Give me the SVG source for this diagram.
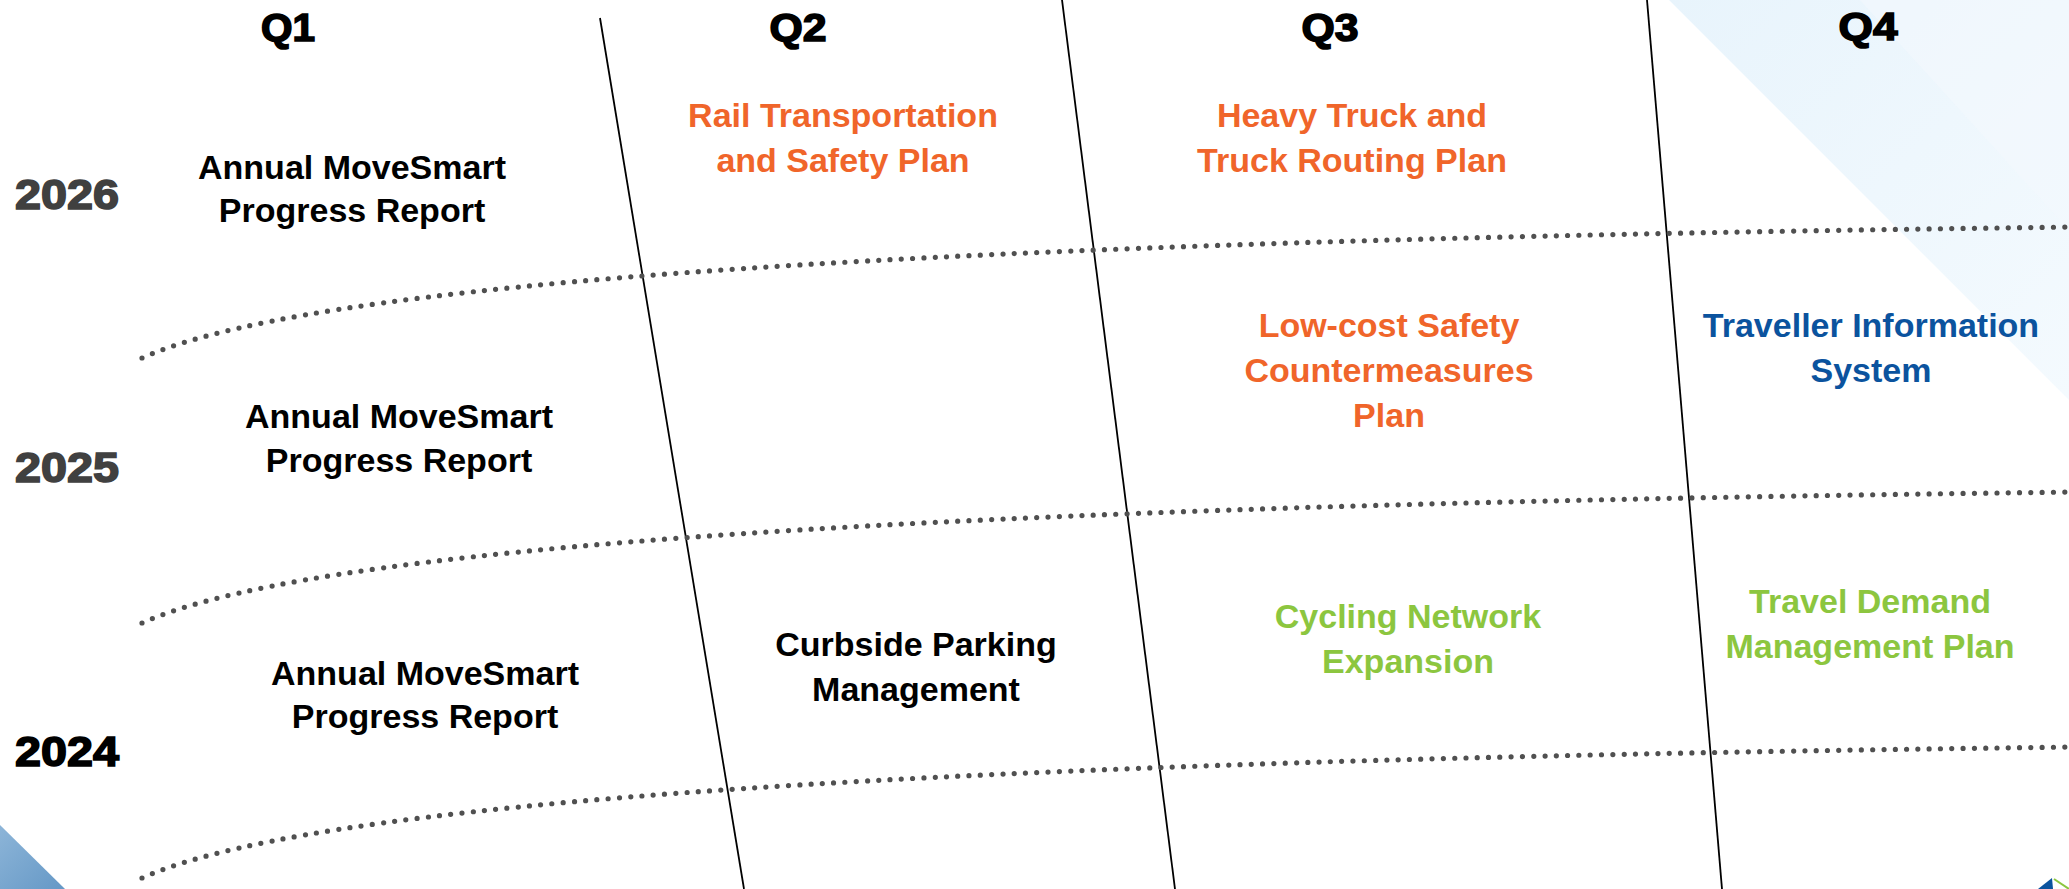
<svg xmlns="http://www.w3.org/2000/svg" width="2069" height="889" viewBox="0 0 2069 889">
<style>
.t{font-family:"Liberation Sans",Arial,sans-serif;font-weight:bold;font-size:34px;text-anchor:middle}
.blk{fill:#000}
.org{fill:#F0652A}
.blu{fill:#0B539E}
.grn{fill:#8CC63F}
.q{font-family:"Liberation Sans",Arial,sans-serif;font-weight:bold;font-size:39px;text-anchor:middle;fill:#000;stroke:#000;stroke-width:1.6}
.yr{font-family:"Liberation Sans",Arial,sans-serif;font-weight:bold;font-size:42px;stroke-width:1.6}
.grid{stroke:#000;stroke-width:1.8;fill:none}
.dots{stroke:#505050;stroke-width:5.2;stroke-linecap:round;stroke-dasharray:0 11.3;fill:none}
</style>
<defs>
<linearGradient id="bgTR" x1="0" y1="0" x2="1" y2="1">
<stop offset="0" stop-color="#E8F4FC"/>
<stop offset="1" stop-color="#F4FAFE"/>
</linearGradient>
<linearGradient id="bgBL" x1="0" y1="0" x2="1" y2="1">
<stop offset="0" stop-color="#8DB5D8"/>
<stop offset="1" stop-color="#6598C6"/>
</linearGradient>
<path id="curve" d="M142,358 C332,272 1069,239 2075,227"/>
</defs>
<rect width="2069" height="889" fill="#fff"/>
<g id="background">
<polygon points="1669,0 2069,0 2069,400" fill="url(#bgTR)"/>
<polygon points="1860,0 2069,0 2069,230" fill="#F3F9FE" opacity="0.6"/>
<polygon points="0,825 65,889 0,889" fill="url(#bgBL)"/>
<polygon points="2038,889 2052,878 2053,889" fill="#0B539E"/>
<line x1="2054" y1="879" x2="2069" y2="889" stroke="#8CC63F" stroke-width="2"/>
</g>
<g id="connectors">
<line class="grid" x1="600" y1="18" x2="744" y2="889"/>
<line class="grid" x1="1062" y1="0" x2="1175" y2="889"/>
<line class="grid" x1="1647" y1="0" x2="1722" y2="889"/>
<use href="#curve" class="dots"/>
<use href="#curve" class="dots" transform="translate(0,265)"/>
<use href="#curve" class="dots" transform="translate(0,520)"/>
</g>
<g id="q1"><text class="q" x="288" y="41" textLength="54" lengthAdjust="spacingAndGlyphs">Q1</text></g>
<g id="q2"><text class="q" x="798" y="41" textLength="57" lengthAdjust="spacingAndGlyphs">Q2</text></g>
<g id="q3"><text class="q" x="1330" y="41" textLength="57" lengthAdjust="spacingAndGlyphs">Q3</text></g>
<g id="q4"><text class="q" x="1868" y="40" textLength="59" lengthAdjust="spacingAndGlyphs">Q4</text></g>
<g id="y2026"><text class="yr" x="15" y="209" fill="#404040" stroke="#404040" textLength="104" lengthAdjust="spacingAndGlyphs">2026</text></g>
<g id="y2025"><text class="yr" x="15" y="482" fill="#404040" stroke="#404040" textLength="104" lengthAdjust="spacingAndGlyphs">2025</text></g>
<g id="y2024"><text class="yr" x="15" y="766" fill="#000" stroke="#000" textLength="104" lengthAdjust="spacingAndGlyphs">2024</text></g>
<g id="report2026"><text class="t blk" x="352" y="179">Annual MoveSmart</text><text class="t blk" x="352" y="222">Progress Report</text></g>
<g id="report2025"><text class="t blk" x="399" y="428">Annual MoveSmart</text><text class="t blk" x="399" y="472">Progress Report</text></g>
<g id="report2024"><text class="t blk" x="425" y="685">Annual MoveSmart</text><text class="t blk" x="425" y="728">Progress Report</text></g>
<g id="rail"><text class="t org" x="843" y="127">Rail Transportation</text><text class="t org" x="843" y="172">and Safety Plan</text></g>
<g id="truck"><text class="t org" x="1352" y="127">Heavy Truck and</text><text class="t org" x="1352" y="172">Truck Routing Plan</text></g>
<g id="lowcost"><text class="t org" x="1389" y="337">Low-cost Safety</text><text class="t org" x="1389" y="382">Countermeasures</text><text class="t org" x="1389" y="427">Plan</text></g>
<g id="traveller"><text class="t blu" x="1871" y="337">Traveller Information</text><text class="t blu" x="1871" y="382">System</text></g>
<g id="curbside"><text class="t blk" x="916" y="656">Curbside Parking</text><text class="t blk" x="916" y="701">Management</text></g>
<g id="cycling"><text class="t grn" x="1408" y="628">Cycling Network</text><text class="t grn" x="1408" y="673">Expansion</text></g>
<g id="tdm"><text class="t grn" x="1870" y="613">Travel Demand</text><text class="t grn" x="1870" y="658">Management Plan</text></g>
</svg>
